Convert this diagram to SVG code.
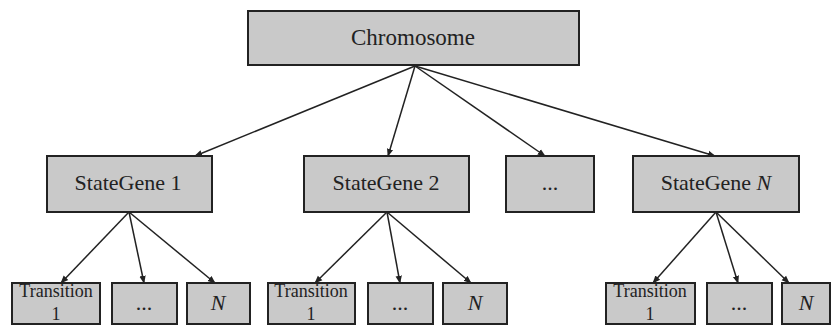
<svg xmlns="http://www.w3.org/2000/svg" width="833" height="327" viewBox="0 0 833 327">
<style>
.b{fill:#c9c9c9;stroke:#222;stroke-width:2}
.t{font-family:"Liberation Serif","Times New Roman",serif;font-size:22px;fill:#222;text-anchor:middle}
.s{font-family:"Liberation Serif","Times New Roman",serif;font-size:18px;fill:#222;text-anchor:middle}
.i{font-style:italic}
.c line{stroke:#222;stroke-width:1.5;marker-end:url(#a)}
</style>
<defs>
<marker id="a" viewBox="0 0 10 10" refX="9" refY="5" markerWidth="8" markerHeight="8" orient="auto" markerUnits="userSpaceOnUse">
<path d="M0,1 L10,5 L0,9 z" fill="#222"/>
</marker>
</defs>
<rect width="833" height="327" fill="#fff"/>
<g class="c">
<line x1="415" y1="66" x2="195" y2="156"/>
<line x1="415" y1="66" x2="388" y2="156"/>
<line x1="415" y1="66" x2="545" y2="156"/>
<line x1="415" y1="66" x2="715" y2="156"/>
<line x1="129" y1="212" x2="61" y2="283"/>
<line x1="129" y1="212" x2="144" y2="283"/>
<line x1="129" y1="212" x2="215" y2="283"/>
<line x1="387" y1="212" x2="315" y2="283"/>
<line x1="387" y1="212" x2="400" y2="283"/>
<line x1="387" y1="212" x2="471" y2="283"/>
<line x1="716" y1="212" x2="653" y2="283"/>
<line x1="716" y1="212" x2="738" y2="283"/>
<line x1="716" y1="212" x2="789" y2="283"/>
</g>
<g id="chromosome"><rect class="b" x="248" y="11" width="331" height="54"/><text class="t" x="413" y="45" style="font-size:23px">Chromosome</text></g>
<g id="sg1"><rect class="b" x="47" y="156" width="165" height="56"/><text class="t" x="128" y="190">StateGene 1</text></g>
<g id="sg2"><rect class="b" x="304" y="156" width="165" height="56"/><text class="t" x="386" y="190">StateGene 2</text></g>
<g id="sgdots"><rect class="b" x="506" y="156" width="88" height="56"/><text class="t" x="550" y="190">...</text></g>
<g id="sgN"><rect class="b" x="633" y="156" width="166" height="56"/><text class="t" x="716" y="190">StateGene <tspan class="i">N</tspan></text></g>
<g id="t1a"><rect class="b" x="12" y="283" width="88" height="41"/><text class="s" x="56" y="297">Transition</text><text class="s" x="56" y="320">1</text></g>
<g id="t1b"><rect class="b" x="112" y="283" width="65" height="41"/><text class="t" x="144" y="310">...</text></g>
<g id="t1c"><rect class="b" x="187" y="283" width="63" height="41"/><text class="t i" x="218" y="310">N</text></g>
<g id="t2a"><rect class="b" x="268" y="283" width="87" height="41"/><text class="s" x="311" y="297">Transition</text><text class="s" x="311" y="320">1</text></g>
<g id="t2b"><rect class="b" x="368" y="283" width="65" height="41"/><text class="t" x="400" y="310">...</text></g>
<g id="t2c"><rect class="b" x="443" y="283" width="64" height="41"/><text class="t i" x="475" y="310">N</text></g>
<g id="tNa"><rect class="b" x="606" y="283" width="89" height="41"/><text class="s" x="650" y="297">Transition</text><text class="s" x="650" y="320">1</text></g>
<g id="tNb"><rect class="b" x="707" y="283" width="65" height="41"/><text class="t" x="739" y="310">...</text></g>
<g id="tNc"><rect class="b" x="782" y="283" width="48" height="41"/><text class="t i" x="806" y="310">N</text></g>
</svg>
